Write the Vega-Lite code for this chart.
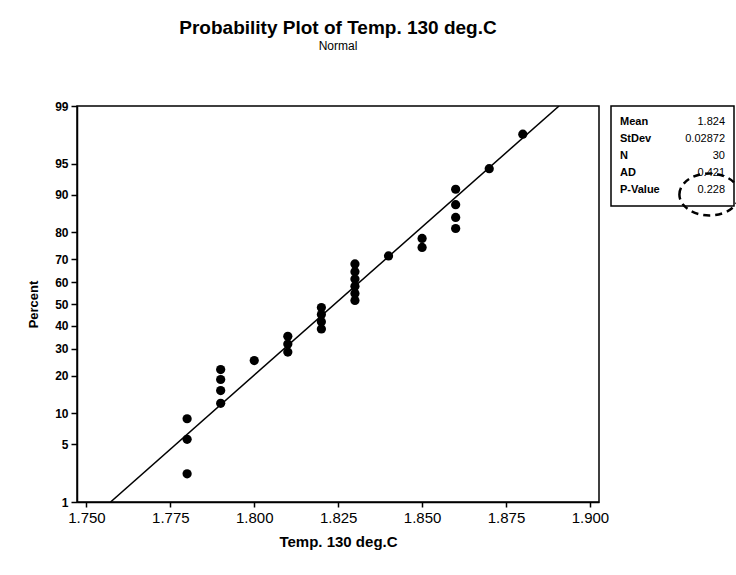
{
  "$schema": "https://vega.github.io/schema/vega-lite/v6.json",
  "background": "white",
  "padding": {"left": 26, "top": 18, "right": 2, "bottom": 0},
  "spacing": 12,
  "bounds": "flush",
  "config": {
    "font": "Liberation Sans",
    "view": {"stroke": "black", "strokeWidth": 1.5},
    "axis": {"domainColor": "black", "tickColor": "black", "labelColor": "black", "titleColor": "black", "grid": false, "domainWidth": 1.5, "tickWidth": 1.5, "labelFont": "Liberation Sans", "titleFont": "Liberation Sans"}
  },
  "datasets": {
    "obs": [
      {"temp": 1.78, "percent": 2.303}, {"temp": 1.78, "percent": 5.592}, {"temp": 1.78, "percent": 8.882},
      {"temp": 1.79, "percent": 12.171}, {"temp": 1.79, "percent": 15.461}, {"temp": 1.79, "percent": 18.75}, {"temp": 1.79, "percent": 22.039},
      {"temp": 1.80, "percent": 25.329},
      {"temp": 1.81, "percent": 28.618}, {"temp": 1.81, "percent": 31.908}, {"temp": 1.81, "percent": 35.197},
      {"temp": 1.82, "percent": 38.487}, {"temp": 1.82, "percent": 41.776}, {"temp": 1.82, "percent": 45.066}, {"temp": 1.82, "percent": 48.355},
      {"temp": 1.83, "percent": 51.645}, {"temp": 1.83, "percent": 54.934}, {"temp": 1.83, "percent": 58.224}, {"temp": 1.83, "percent": 61.513}, {"temp": 1.83, "percent": 64.803}, {"temp": 1.83, "percent": 68.092},
      {"temp": 1.84, "percent": 71.382},
      {"temp": 1.85, "percent": 74.671}, {"temp": 1.85, "percent": 77.961},
      {"temp": 1.86, "percent": 81.25}, {"temp": 1.86, "percent": 84.539}, {"temp": 1.86, "percent": 87.829}, {"temp": 1.86, "percent": 91.118},
      {"temp": 1.87, "percent": 94.408},
      {"temp": 1.88, "percent": 97.697}
    ],
    "fit": [
      {"temp": 1.7572, "percent": 1},
      {"temp": 1.8908, "percent": 99}
    ],
    "stats": [
      {"stat": "Mean", "value": "1.824"},
      {"stat": "StDev", "value": "0.02872"},
      {"stat": "N", "value": "30"},
      {"stat": "AD", "value": "0.421"},
      {"stat": "P-Value", "value": "0.228"}
    ]
  },
  "hconcat": [
    {
      "width": 522,
      "height": 396,
      "title": {
        "text": "Probability Plot of Temp. 130 deg.C",
        "subtitle": "Normal",
        "fontSize": 19,
        "fontWeight": "bold",
        "color": "black",
        "subtitleFontSize": 12,
        "subtitleColor": "black",
        "subtitlePadding": 3,
        "offset": 48,
        "anchor": "middle"
      },
      "layer": [
        {
          "data": {"name": "fit"},
          "transform": [{"calculate": "quantileNormal(datum.percent / 100)", "as": "z"}],
          "mark": {"type": "line", "color": "black", "strokeWidth": 1.5, "clip": true},
          "encoding": {
            "x": {"field": "temp", "type": "quantitative", "scale": {"domain": [1.7472, 1.9027], "nice": false, "zero": false},
              "axis": {"title": "Temp. 130 deg.C", "values": [1.75, 1.775, 1.8, 1.825, 1.85, 1.875, 1.9], "tickCount": 20, "format": ".3f", "labelFontSize": 15, "labelFlush": false, "labelOverlap": false, "titleFontSize": 15, "titleFontWeight": "bold", "tickSize": 5, "labelPadding": 3, "titlePadding": 9}},
            "y": {"field": "z", "type": "quantitative", "scale": {"domain": [-2.3263, 2.3263], "nice": false, "zero": false},
              "axis": {"title": "Percent", "values": [-2.3263, -1.6449, -1.2816, -0.8416, -0.5244, -0.2533, 0, 0.2533, 0.5244, 0.8416, 1.2816, 1.6449, 2.3263], "tickCount": 20,
                "labelExpr": "format(round(cumulativeNormal(datum.value) * 100), 'd')", "labelOverlap": false, "labelFontSize": 12, "labelFontWeight": "bold", "titleFontSize": 13, "titleFontWeight": "bold", "tickSize": 6, "labelPadding": 3, "titlePadding": 14}}
          }
        },
        {
          "data": {"name": "obs"},
          "transform": [{"calculate": "quantileNormal(datum.percent / 100)", "as": "z"}],
          "mark": {"type": "point", "shape": "circle", "filled": true, "color": "black", "size": 85, "opacity": 1},
          "encoding": {
            "x": {"field": "temp", "type": "quantitative", "scale": {"domain": [1.7472, 1.9027], "nice": false, "zero": false}},
            "y": {"field": "z", "type": "quantitative", "scale": {"domain": [-2.3263, 2.3263], "nice": false, "zero": false}}
          }
        }
      ]
    },
    {
      "width": 123,
      "height": 100,
      "data": {"name": "stats"},
      "layer": [
        {
          "mark": {"type": "text", "align": "left", "dx": 9, "fontSize": 11, "fontWeight": "bold", "color": "black"},
          "encoding": {
            "x": {"datum": 0, "type": "quantitative", "scale": {"domain": [0, 1]}, "axis": null},
            "y": {"field": "stat", "type": "nominal", "sort": null, "scale": {"type": "point", "padding": 0.9}, "axis": null},
            "text": {"field": "stat"}
          }
        },
        {
          "mark": {"type": "text", "align": "right", "dx": -9, "fontSize": 11, "color": "black"},
          "encoding": {
            "x": {"datum": 1, "type": "quantitative", "scale": {"domain": [0, 1]}, "axis": null},
            "y": {"field": "stat", "type": "nominal", "sort": null, "scale": {"type": "point", "padding": 0.9}, "axis": null},
            "text": {"field": "value"}
          }
        },
        {
          "transform": [{"filter": "datum.stat === 'P-Value'"}],
          "mark": {"type": "point", "shape": "M -1 0 A 1 0.7 0 1 1 1 0 A 1 0.7 0 1 1 -1 0 Z", "filled": false, "stroke": "black", "strokeWidth": 2.5, "strokeDash": [7, 5], "size": 3600, "yOffset": 4, "opacity": 1},
          "encoding": {
            "x": {"datum": 0.8, "type": "quantitative", "scale": {"domain": [0, 1]}, "axis": null},
            "y": {"field": "stat", "type": "nominal", "sort": null, "scale": {"type": "point", "padding": 0.9}, "axis": null}
          }
        }
      ]
    }
  ]
}
